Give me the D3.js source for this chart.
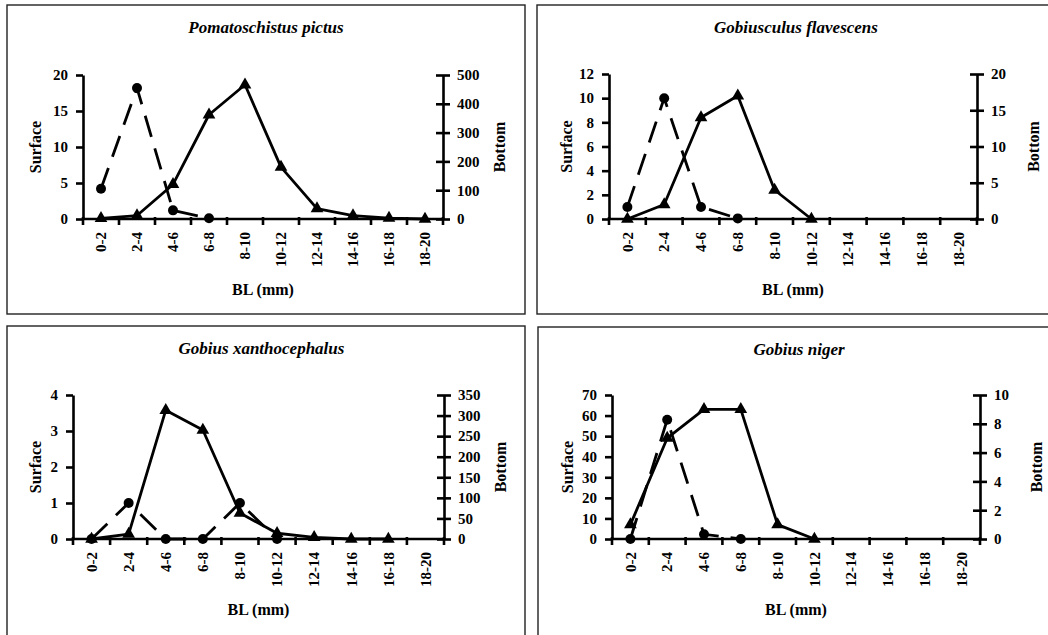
<!DOCTYPE html>
<html>
<head>
<meta charset="utf-8">
<script src="https://cdn.jsdelivr.net/npm/d3@7"></script>
<style>
  body { margin: 0; background: #fff; }
</style>
</head>
<body>
<div id="chart"></div>
<script>
// size classes (mm), shared by all four panels
var categories = ["0-2", "2-4", "4-6", "6-8", "8-10", "10-12", "12-14", "14-16", "16-18", "18-20"];

var titles = ["Pomatoschistus pictus", "Gobiusculus flavescens", "Gobius xanthocephalus", "Gobius niger"];

// left axis (Surface) and right axis (Bottom) ranges
var surfaceMax = [20, 12, 4, 70];
var surfaceStep = [5, 2, 1, 10];
var bottomMax = [500, 20, 350, 10];
var bottomStep = [100, 5, 50, 2];

// Surface = circles, dashed line ; Bottom = triangles, solid line
var surfaceVals = [
  [4.2, 18.2, 1.2, 0.1, null, null, null, null, null, null],
  [1, 10, 1, 0.05, null, null, null, null, null, null],
  [0, 1, 0, 0, 1, 0, null, null, null, null],
  [0, 58, 2.3, 0, null, null, null, null, null, null]
];
var bottomVals = [
  [2, 12, 120, 362, 466, 180, 36, 12, 3, 0],
  [0, 2, 14, 17, 4, 0, null, null, null, null],
  [0, 12, 313, 265, 63, 14, 4, 0, 0, null],
  [1, 7, 9, 9, 1, 0, null, null, null, null]
];

var W = 1048, H = 635;
var font = "'Liberation Serif', 'Times New Roman', serif";

// frame + plot box of each panel
var layout = [
  { fx: 7,   fy: 5,   fw: 518, fh: 309, left: 83,  right: 443, top: 75,  zero: 219 },
  { fx: 537, fy: 5,   fw: 530, fh: 309, left: 609, right: 977, top: 74,  zero: 219 },
  { fx: 7,   fy: 326, fw: 518, fh: 330, left: 73,  right: 444, top: 395, zero: 539 },
  { fx: 538, fy: 327, fw: 530, fh: 330, left: 612, right: 980, top: 395, zero: 539 }
];

var svg = d3.select("#chart")
  .append("svg")
  .attr("width", W)
  .attr("height", H)
  .attr("font-family", font)
  .attr("font-weight", "bold")
  .attr("font-size", 15);

titles.forEach(function(title, p) {
  var L = layout[p];
  var g = svg.append("g");

  g.append("rect")
    .attr("x", L.fx).attr("y", L.fy)
    .attr("width", L.fw).attr("height", L.fh)
    .attr("fill", "none")
    .attr("stroke", "#222")
    .attr("stroke-width", 1.4);

  var x = d3.scaleBand().domain(categories).range([L.left, L.right]).padding(0);
  var yS = d3.scaleLinear().domain([0, surfaceMax[p]]).range([L.zero, L.top]);
  var yB = d3.scaleLinear().domain([0, bottomMax[p]]).range([L.zero, L.top]);
  var cx = function(i) { return x(categories[i]) + x.bandwidth() / 2; };

  // left axis, ticks outside
  var ax = g.append("g")
    .attr("transform", "translate(" + L.left + ",0)")
    .call(d3.axisLeft(yS)
      .tickValues(d3.range(0, surfaceMax[p] + 0.001, surfaceStep[p]))
      .tickSizeInner(7).tickSizeOuter(0).tickPadding(8)
      .tickFormat(d3.format("d")));

  // right axis, ticks cross the line
  var bx = g.append("g")
    .attr("transform", "translate(" + L.right + ",0)")
    .call(d3.axisRight(yB)
      .tickValues(d3.range(0, bottomMax[p] + 0.001, bottomStep[p]))
      .tickSizeInner(7).tickSizeOuter(0).tickPadding(7)
      .tickFormat(d3.format("d")));
  bx.selectAll(".tick line").attr("x1", -7);

  [ax, bx].forEach(function(a) {
    a.attr("font-family", font).attr("font-size", 15).attr("font-weight", "bold");
    a.select(".domain").attr("stroke", "#000").attr("stroke-width", 2.6);
    a.selectAll(".tick line").attr("stroke", "#000").attr("stroke-width", 2.6);
    a.selectAll("text").attr("fill", "#000");
  });

  // x axis line, ticks at the class boundaries
  g.append("line")
    .attr("x1", L.left).attr("x2", L.right)
    .attr("y1", L.zero).attr("y2", L.zero)
    .attr("stroke", "#000").attr("stroke-width", 2.6);

  var bounds = categories.map(function(c) { return x(c); }).concat([L.right]);
  g.selectAll(".xt")
    .data(bounds)
    .enter().append("line")
    .attr("x1", function(d) { return d; })
    .attr("x2", function(d) { return d; })
    .attr("y1", L.zero - 2).attr("y2", L.zero + 6)
    .attr("stroke", "#000").attr("stroke-width", 2.6);

  g.selectAll(".xl")
    .data(categories)
    .enter().append("text")
    .attr("transform", function(d, i) {
      return "translate(" + cx(i) + "," + (L.zero + 13) + ") rotate(-90)";
    })
    .attr("text-anchor", "end")
    .attr("dy", "0.35em")
    .text(function(d) { return d; });

  // title + axis names
  g.append("text")
    .attr("x", (L.left + L.right) / 2 + 3)
    .attr("y", L.fy + 28)
    .attr("text-anchor", "middle")
    .attr("font-size", 17)
    .attr("font-style", "italic")
    .text(title);

  g.append("text")
    .attr("x", (L.left + L.right) / 2)
    .attr("y", L.zero + 76)
    .attr("text-anchor", "middle")
    .attr("font-size", 16)
    .text("BL (mm)");

  var midY = (L.top + L.zero) / 2;
  g.append("text")
    .attr("transform", "translate(" + (L.fx + 28 + (p % 2 ? 1 : 0)) + "," + midY + ") rotate(-90)")
    .attr("text-anchor", "middle")
    .attr("dy", "0.35em")
    .attr("font-size", 16)
    .text("Surface");

  g.append("text")
    .attr("transform", "translate(" + (L.right + 56) + "," + midY + ") rotate(-90)")
    .attr("text-anchor", "middle")
    .attr("dy", "0.35em")
    .attr("font-size", 16)
    .text("Bottom");

  // series
  var bottomPts = bottomVals[p].map(function(v, i) { return { i: i, v: v }; })
    .filter(function(d) { return d.v !== null; });
  var surfPts = surfaceVals[p].map(function(v, i) { return { i: i, v: v }; })
    .filter(function(d) { return d.v !== null; });

  var lineB = d3.line().x(function(d) { return cx(d.i); }).y(function(d) { return yB(d.v); });
  var lineS = d3.line().x(function(d) { return cx(d.i); }).y(function(d) { return yS(d.v); });

  g.append("path")
    .datum(bottomPts)
    .attr("d", lineB)
    .attr("fill", "none")
    .attr("stroke", "#000")
    .attr("stroke-width", 2.8)
    .attr("stroke-linejoin", "round");

  g.append("path")
    .datum(surfPts)
    .attr("d", lineS)
    .attr("fill", "none")
    .attr("stroke", "#000")
    .attr("stroke-width", 2.8)
    .attr("stroke-dasharray", "22,12");

  var tri = d3.symbol().type(d3.symbolTriangle).size(70);
  g.selectAll(".tri")
    .data(bottomPts)
    .enter().append("path")
    .attr("d", tri)
    .attr("transform", function(d) { return "translate(" + cx(d.i) + "," + yB(d.v) + ")"; })
    .attr("fill", "#000");

  g.selectAll(".dot")
    .data(surfPts)
    .enter().append("circle")
    .attr("cx", function(d) { return cx(d.i); })
    .attr("cy", function(d) { return yS(d.v); })
    .attr("r", 5)
    .attr("fill", "#000");
});
</script>
</body>
</html>
